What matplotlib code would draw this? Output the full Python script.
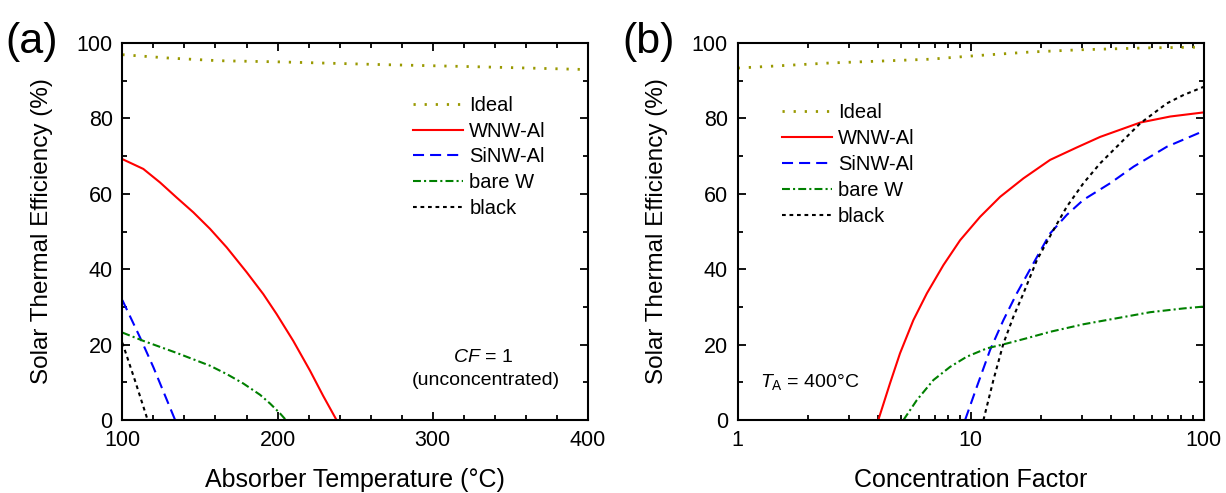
import matplotlib
matplotlib.use('Agg')
import matplotlib.pyplot as plt
from matplotlib.ticker import MultipleLocator, LogLocator, NullFormatter, FixedLocator

plt.rcParams['font.family'] = ['Liberation Sans', 'DejaVu Sans']
plt.rcParams['mathtext.fontset'] = 'custom'
plt.rcParams['mathtext.rm'] = 'Liberation Sans'
plt.rcParams['mathtext.it'] = 'Liberation Sans:italic'

# --- (a) efficiency vs absorber temperature, CF = 1 ---
temp_ideal = [100, 130, 162, 200, 264, 328, 400]
eff_ideal_a = [96.9, 96.0, 95.3, 95.0, 94.3, 93.7, 92.95]

temp_wnw = [100, 113.5, 124.3, 135, 145.7, 156.5, 167.2, 180.1, 190.8, 199.4,
            210.1, 220.9, 229.4, 238]
eff_wnw_a = [69.2, 66.6, 63.0, 59.0, 55.1, 50.7, 45.8, 39.2, 33.4, 28.1,
             21.0, 13.1, 6.4, 0]

temp_sinw = [100, 111.4, 120, 134]
eff_sinw_a = [31.8, 21.9, 14.0, 0]

temp_bare = [100, 113.5, 135, 156.5, 167.2, 177.9, 188.7, 195.1, 201.5, 205.4]
eff_bare_a = [23.2, 21.0, 17.8, 14.4, 12.2, 9.7, 6.7, 4.4, 1.8, 0]

temp_black = [100, 108.2, 116.3]
eff_black_a = [20.5, 10.4, 0]

# --- (b) efficiency vs concentration factor, TA = 400 C ---
cf_ideal = [1, 2.49, 6.69, 10.3, 17.9, 29.4, 56.9, 100]
eff_ideal_b = [93.35, 94.7, 95.7, 96.6, 97.6, 98.2, 98.7, 98.9]

cf_wnw = [4.01, 4.50, 4.97, 5.67, 6.48, 7.63, 9.0, 10.96, 13.36, 16.82,
          21.89, 28.5, 35.9, 53.3, 71.7, 100]
eff_wnw_b = [0, 9.7, 17.7, 26.5, 33.6, 41.1, 47.7, 53.9, 59.2, 64.1,
             69.0, 72.3, 75.1, 78.9, 80.5, 81.6]

cf_sinw = [9.45, 10.61, 12.10, 13.80, 15.75, 18.57, 21.89, 25.8, 30.4,
           39.6, 49.9, 69.4, 100]
eff_sinw_b = [0, 8.8, 18.6, 26.5, 33.6, 41.6, 49.5, 54.4, 58.4,
              62.8, 67.2, 72.5, 76.7]

cf_bare = [5.14, 5.87, 6.91, 8.15, 9.61, 11.71, 14.27, 17.39, 21.89,
           30.4, 42.3, 58.8, 81.7, 100]
eff_bare_b = [0, 5.3, 10.6, 14.1, 16.8, 19.0, 20.3, 21.7, 23.4,
              25.4, 27.0, 28.6, 29.6, 30.1]

cf_black = [11.33, 12.50, 13.80, 15.23, 16.82, 19.20, 22.62, 25.82, 30.4,
            35.9, 42.3, 53.3, 69.4, 81.7, 100]
eff_black_b = [0, 10.6, 20.3, 27.4, 33.6, 42.4, 50.4, 56.6, 62.8,
               68.1, 72.5, 78.7, 84.0, 86.2, 88.4]

labels = ['Ideal', 'WNW-Al', 'SiNW-Al', 'bare W', 'black']

styles = {
    'Ideal':   dict(color='#999900', lw=2.0, dashes=(0.8, 3.2)),
    'WNW-Al':  dict(color='#ff0000', lw=1.5, ls='-'),
    'SiNW-Al': dict(color='#0000ff', lw=1.5, dashes=(5.3, 2.9)),
    'bare W':  dict(color='#008000', lw=1.5, dashes=(3.8, 1.5, 1.0, 1.5)),
    'black':   dict(color='#000000', lw=1.5, dashes=(1.8, 1.8)),
}

fig = plt.figure(figsize=(12.26, 4.93), dpi=100)
ax1 = fig.add_axes([0.0998, 0.148, 0.3798, 0.7648])
ax2 = fig.add_axes([0.6017, 0.148, 0.3803, 0.7648])

series_a = [(temp_ideal, eff_ideal_a), (temp_wnw, eff_wnw_a), (temp_sinw, eff_sinw_a),
            (temp_bare, eff_bare_a), (temp_black, eff_black_a)]
series_b = [(cf_ideal, eff_ideal_b), (cf_wnw, eff_wnw_b), (cf_sinw, eff_sinw_b),
            (cf_bare, eff_bare_b), (cf_black, eff_black_b)]

for lab, (x, y) in zip(labels, series_a):
    ax1.plot(x, y, label=lab, **styles[lab])
for lab, (x, y) in zip(labels, series_b):
    ax2.plot(x, y, label=lab, **styles[lab])

ax1.set_xlim(100, 400)
ax1.xaxis.set_major_locator(MultipleLocator(100))
ax1.xaxis.set_minor_locator(MultipleLocator(20))

ax2.set_xscale('log')
ax2.set_xlim(1, 100)
ax2.xaxis.set_major_locator(FixedLocator([1, 10, 100]))
ax2.set_xticklabels(['1', '10', '100'])
ax2.xaxis.set_minor_locator(LogLocator(base=10, subs=range(2, 10)))
ax2.xaxis.set_minor_formatter(NullFormatter())

for ax in (ax1, ax2):
    ax.set_ylim(0, 100)
    ax.yaxis.set_major_locator(MultipleLocator(20))
    ax.yaxis.set_minor_locator(MultipleLocator(10))
    for sp in ax.spines.values():
        sp.set_linewidth(1.5)
    ax.tick_params(which='both', direction='in', top=True, right=True, width=1.3)
    ax.tick_params(which='major', length=6, labelsize=15.5)
    ax.tick_params(axis='x', which='major', pad=7.5)
    ax.tick_params(axis='y', which='major', pad=7)
    ax.tick_params(which='minor', length=3.5)
    ax.set_ylabel('Solar Thermal Efficiency (%)', fontsize=17.5, labelpad=17)
    ax.legend(frameon=False, fontsize=14.5, handlelength=2.5, handletextpad=0.3,
              labelspacing=0.34, borderpad=0, borderaxespad=0, loc='upper left',
              bbox_to_anchor=(0.624, 0.86) if ax is ax1 else (0.094, 0.84))

ax1.set_xlabel('Absorber Temperature (°C)', fontsize=18, labelpad=12)
ax2.set_xlabel('Concentration Factor', fontsize=18, labelpad=12)

ax1.text(0.775, 0.167, r'$CF$ = 1', transform=ax1.transAxes, ha='center', va='center', fontsize=14)
ax1.text(0.78, 0.104, '(unconcentrated)', transform=ax1.transAxes, ha='center', va='center', fontsize=14)
ax2.text(0.048, 0.102, r'$T_{\rm A}$ = 400°C', transform=ax2.transAxes, ha='left', va='center', fontsize=14)

fig.text(0.004, 0.915, '(a)', fontsize=31, ha='left', va='center')
fig.text(0.508, 0.915, '(b)', fontsize=31, ha='left', va='center')

fig.savefig('out.png', dpi=100)
